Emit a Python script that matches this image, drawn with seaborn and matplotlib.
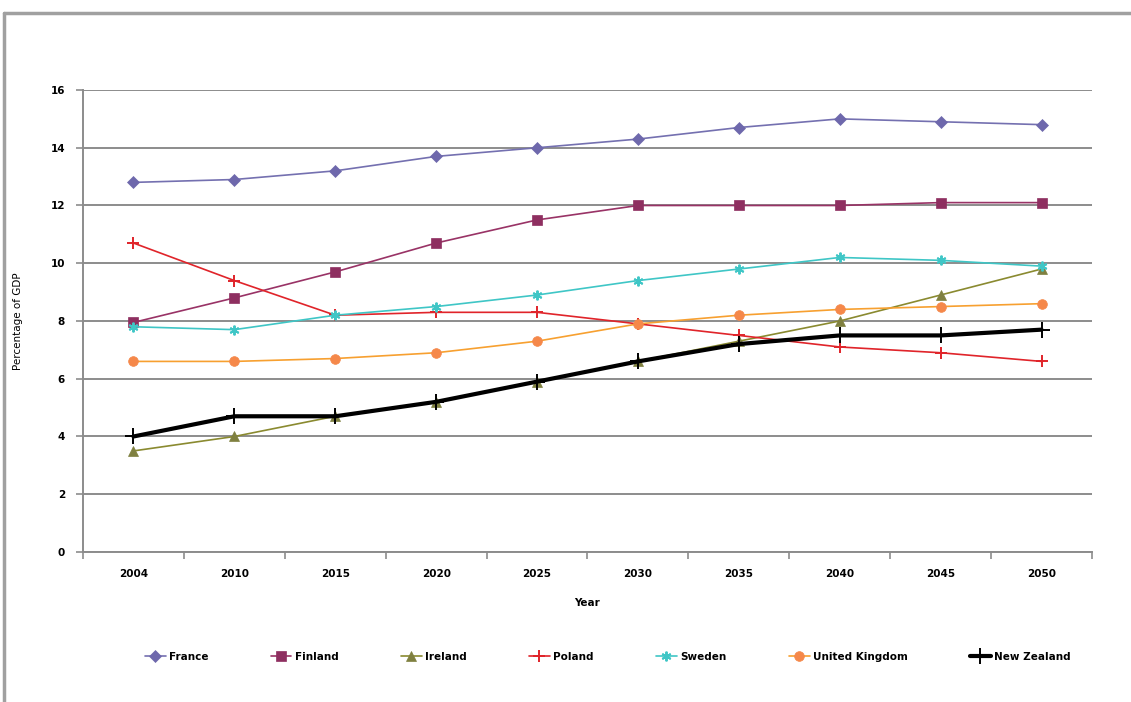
import matplotlib
matplotlib.use("Agg")
import matplotlib.pyplot as plt
from matplotlib.lines import Line2D
import pandas as pd
import seaborn as sns

YEARS = ["2004", "2010", "2015", "2020", "2025", "2030", "2035", "2040", "2045", "2050"]

FRANCE = [12.8, 12.9, 13.2, 13.7, 14.0, 14.3, 14.7, 15.0, 14.9, 14.8]
FINLAND = [7.95, 8.8, 9.7, 10.7, 11.5, 12.0, 12.0, 12.0, 12.1, 12.1]
IRELAND = [3.5, 4.0, 4.7, 5.2, 5.9, 6.6, 7.3, 8.0, 8.9, 9.8]
POLAND = [10.7, 9.4, 8.2, 8.3, 8.3, 7.9, 7.5, 7.1, 6.9, 6.6]
SWEDEN = [7.8, 7.7, 8.2, 8.5, 8.9, 9.4, 9.8, 10.2, 10.1, 9.9]
UK = [6.6, 6.6, 6.7, 6.9, 7.3, 7.9, 8.2, 8.4, 8.5, 8.6]
NEW_ZEALAND = [4.0, 4.7, 4.7, 5.2, 5.9, 6.6, 7.2, 7.5, 7.5, 7.7]

SERIES = [
    ("France", FRANCE),
    ("Finland", FINLAND),
    ("Ireland", IRELAND),
    ("Poland", POLAND),
    ("Sweden", SWEDEN),
    ("United Kingdom", UK),
    ("New Zealand", NEW_ZEALAND),
]

# line colour, marker, marker size, marker face colour, line width
STYLES = {
    "France": ("#7470B0", "D", 6, "#6E68AC", 1.2),
    "Finland": ("#993366", "s", 7, "#8E2F60", 1.2),
    "Ireland": ("#8A8A30", "^", 7, "#7F8040", 1.2),
    "Poland": ("#E0242A", "+", 8, "#E0242A", 1.2),
    "Sweden": ("#3FC6C6", (6, 2, 0), 7, "#3FC6C6", 1.2),
    "United Kingdom": ("#F7A030", "o", 7, "#F5884A", 1.2),
    "New Zealand": ("#000000", "+", 11, "#000000", 3.0),
}

df = pd.concat(
    [pd.DataFrame({"Year": YEARS, "Value": vals, "Country": name}) for name, vals in SERIES],
    ignore_index=True,
)

sns.set_style("white")
plt.rcParams["font.family"] = ["DejaVu Sans"]
plt.rcParams["text.color"] = "black"
plt.rcParams["axes.labelcolor"] = "black"
plt.rcParams["xtick.labelcolor"] = "black"
plt.rcParams["ytick.labelcolor"] = "black"

fig = plt.figure(figsize=(11.31, 7.02), dpi=100)
ax = fig.add_axes([0.0734, 0.2137, 0.8921, 0.6581])

for name, _ in SERIES:
    color, marker, ms, mfc, lw = STYLES[name]
    sub = df[df["Country"] == name]
    sns.lineplot(
        data=sub, x="Year", y="Value", ax=ax, color=color, lw=lw,
        marker=marker, markersize=ms, markerfacecolor=mfc,
        markeredgecolor=mfc, markeredgewidth=1.4 if marker in ("+", (6, 2, 0)) else 0.5,
        label=name, zorder=3,
    )

ax.set_ylim(0, 16)
ax.set_yticks(range(0, 17, 2))
ax.set_xlim(-0.5, len(YEARS) - 0.5)
ax.yaxis.grid(True, color="#8C8C8C", lw=1.4)
ax.set_axisbelow(True)

for side in ("top", "right"):
    ax.spines[side].set_visible(False)
for side in ("left", "bottom"):
    ax.spines[side].set_color("#8C8C8C")
    ax.spines[side].set_linewidth(1.4)

ax.set_xticks([i - 0.5 for i in range(len(YEARS) + 1)], minor=True)
ax.tick_params(axis="x", which="major", length=0, pad=12, labelsize=7.5)
ax.tick_params(axis="x", which="minor", length=5, color="#8C8C8C", width=1.2, direction="out")
ax.tick_params(axis="y", length=5, color="#8C8C8C", width=1.2, direction="out", labelsize=7.5, pad=8)
ax.tick_params(bottom=True, left=True, which="both")
for lab in ax.get_xticklabels() + ax.get_yticklabels():
    lab.set_fontweight("bold")

ax.set_xlabel("Year", fontsize=7.5, fontweight="bold", labelpad=14)
ax.set_ylabel("Percentage of GDP", fontsize=7.5, labelpad=20)

ax.legend(
    loc="center", bbox_to_anchor=(0.52, -0.227), ncol=7, frameon=False,
    handlelength=2.0, columnspacing=6.0, handletextpad=0.3,
    prop={"weight": "bold", "size": 7.5},
)

# chart frame as in the original export
fig.add_artist(Line2D([4 / 1131, 1.0], [1 - 13 / 702, 1 - 13 / 702], color="#A0A0A0", lw=2.5))
fig.add_artist(Line2D([4 / 1131, 4 / 1131], [0.0, 1 - 13 / 702], color="#A0A0A0", lw=2.5))

fig.savefig("out.png", dpi=100)
